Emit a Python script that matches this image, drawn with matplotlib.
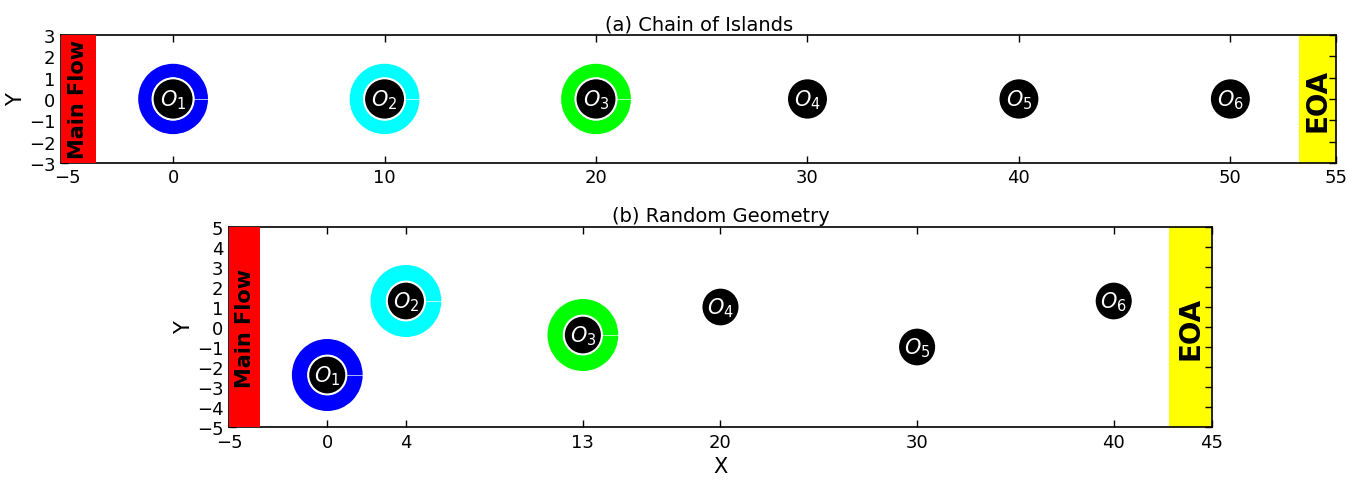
import matplotlib
matplotlib.use("Agg")
import matplotlib.pyplot as plt
from matplotlib.patches import Circle, Wedge, Rectangle

# Panel (a): chain of islands
chain_x = [0, 10, 20, 30, 40, 50]
chain_y = [0, 0, 0, 0, 0, 0]
chain_xticks = [-5, 0, 10, 20, 30, 40, 50, 55]
chain_yticks = [-3, -2, -1, 0, 1, 2, 3]

# Panel (b): random geometry
rand_x = [0, 4, 13, 20, 30, 40]
rand_y = [-2.4, 1.3, -0.4, 1.0, -1.0, 1.3]
rand_xticks = [-5, 0, 4, 13, 20, 30, 40, 45]
rand_yticks = [-5, -4, -3, -2, -1, 0, 1, 2, 3, 4, 5]

labels = ["$O_1$", "$O_2$", "$O_3$", "$O_4$", "$O_5$", "$O_6$"]
ring_colors = ["#0000ff", "#00ffff", "#00ff00", None, None, None]

plt.rcParams["font.family"] = "DejaVu Sans"
plt.rcParams["mathtext.fontset"] = "dejavusans"

fig = plt.figure(figsize=(13.62, 4.85), dpi=100)
ax1 = fig.add_axes([0.0448, 0.662, 0.9362, 0.2638])
ax2 = fig.add_axes([0.1681, 0.1175, 0.7218, 0.4124])


def draw_panel(ax, xs, ys, xlim, ylim, xticks, yticks, ring_r, mf_right, eoa_left, title):
    ax.set_xlim(*xlim)
    ax.set_ylim(*ylim)
    ax.set_xticks(xticks)
    ax.set_yticks(yticks)
    ax.tick_params(direction="in", top=True, right=True, length=5, width=1,
                   labelsize=13, pad=4)
    for s in ax.spines.values():
        s.set_linewidth(1.2)

    # inflow and outflow strips
    ax.add_patch(Rectangle((xlim[0], ylim[0]), mf_right - xlim[0], ylim[1] - ylim[0],
                           facecolor="#ff0000", edgecolor="none", zorder=3))
    ax.text((xlim[0] + mf_right) / 2, (ylim[0] + ylim[1]) / 2, "Main Flow",
            rotation=90, ha="center", va="center", fontsize=15,
            fontweight="bold", zorder=4)
    ax.add_patch(Rectangle((eoa_left, ylim[0]), xlim[1] - eoa_left, ylim[1] - ylim[0],
                           facecolor="#ffff00", edgecolor="none", zorder=1))
    ax.text((eoa_left + xlim[1]) / 2, (ylim[0] + ylim[1]) / 2, "EOA",
            rotation=90, ha="center", va="center", fontsize=20,
            fontweight="bold", zorder=4)

    for x, y, lab, col in zip(xs, ys, labels, ring_colors):
        if col is not None:
            ax.add_patch(Wedge((x, y), ring_r, 0, 360, width=ring_r - 1.0,
                               facecolor=col, edgecolor="none", zorder=2))
            ax.plot([x + 1.0, x + ring_r], [y, y], color="white", lw=0.6,
                    alpha=0.8, zorder=2.1)
        ax.add_patch(Circle((x, y), 0.97, facecolor="black", edgecolor="white",
                            lw=1.5, zorder=2.2))
        ax.text(x, y, lab, color="white", fontsize=15, ha="center",
                va="center", zorder=2.3)

    ax.set_ylabel("Y", fontsize=15, labelpad=2)
    ax.set_title(title, fontsize=14, pad=4)


draw_panel(ax1, chain_x, chain_y, (-5.3, 55), (-3, 3), chain_xticks, chain_yticks,
           1.65, -3.65, 53.25, "(a) Chain of Islands")
draw_panel(ax2, rand_x, rand_y, (-5, 45), (-5, 5), rand_xticks, rand_yticks,
           1.8, -3.4, 42.8, "(b) Random Geometry")
ax2.set_xlabel("X", fontsize=15, labelpad=4)

fig.savefig("out.png", dpi=100)
